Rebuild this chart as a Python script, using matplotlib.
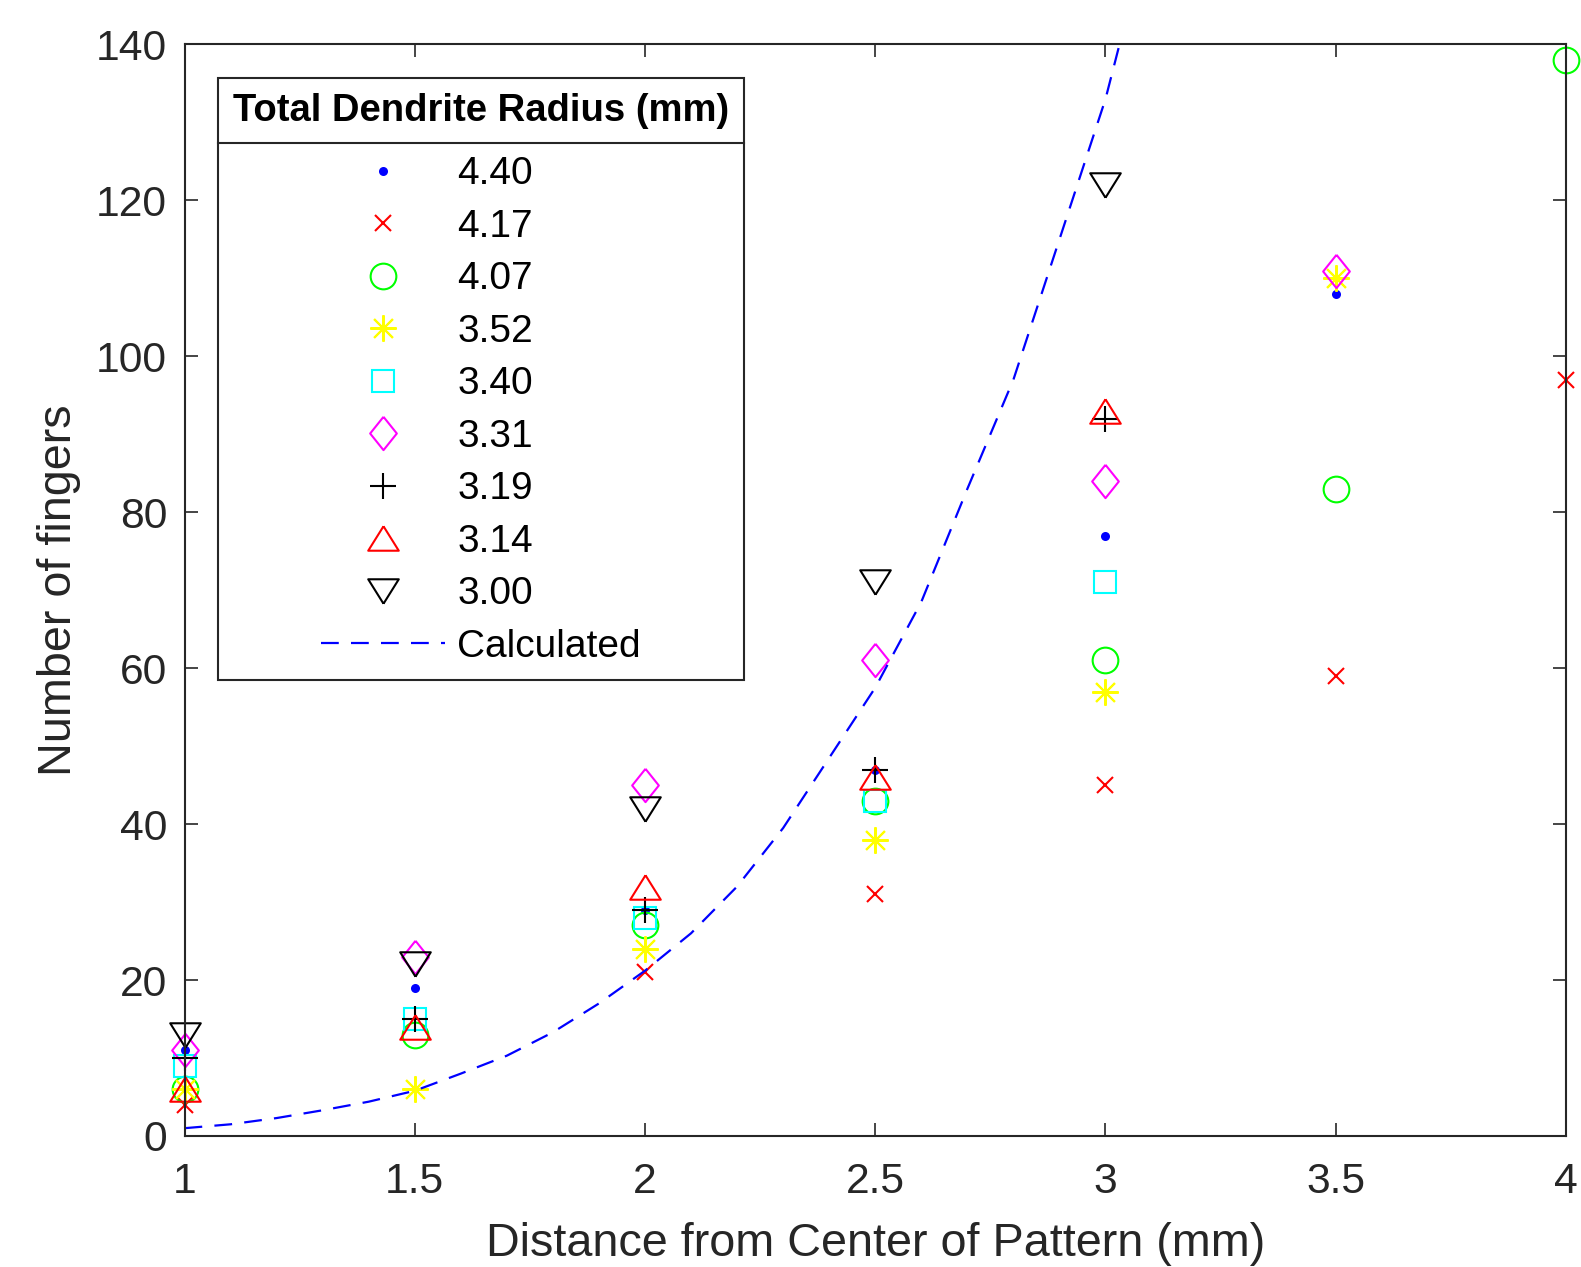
import matplotlib.pyplot as plt
import numpy as np
from matplotlib.lines import Line2D
from matplotlib.ticker import FormatStrFormatter

plt.rcParams['font.family'] = ['Liberation Sans', 'DejaVu Sans']

nan = np.nan

# distance from center of pattern (mm)
dist = [1, 1.5, 2, 2.5, 3, 3.5, 4]

# number of fingers for each total dendrite radius
f440 = [11, 19, 29, 47, 77, 108, nan]
f417 = [4, nan, 21, 31, 45, 59, 97]
f407 = [6, 13, 27, 43, 61, 83, 138]
f352 = [6, 6, 24, 38, 57, 110, nan]
f340 = [9, 15, 28, 43, 71, nan, nan]
f331 = [11, 23, 45, 61, 84, 111, nan]
f319 = [10, 15, 29, 47, 92, nan, nan]
f314 = [6, 14, 32, 46, 93, nan, nan]
f300 = [13, 22, 42, 71, 122, nan, nan]

radius_labels = ['4.40', '4.17', '4.07', '3.52', '3.40', '3.31', '3.19', '3.14', '3.00']

# calculated curve
calc_x = [1.0, 1.1, 1.2, 1.3, 1.4, 1.5, 1.6, 1.7, 1.8, 1.9, 2.0,
          2.1, 2.2, 2.3, 2.4, 2.5, 2.6, 2.7, 2.8, 2.9, 3.0, 3.1]
calc_y = [1.0, 1.5, 2.3, 3.3, 4.4, 5.8, 8.0, 10.3, 13.3, 17.0, 21.2,
          26.0, 32.0, 39.5, 48.5, 57.5, 68.5, 83.0, 97.0, 115.0, 133.0, 156.0]

series = [f440, f417, f407, f352, f340, f331, f319, f314, f300]

tri_up = [(0, 0.8), (-1, -0.8), (1, -0.8), (0, 0.8)]
tri_dn = [(0, -0.8), (-1, 0.8), (1, 0.8), (0, -0.8)]
diamond = [(0, 1), (0.8, 0), (0, -1), (-0.8, 0), (0, 1)]

styles = [
    dict(marker='o', ms=6.5, color='#0000ff', mfc='#0000ff', mew=0),
    dict(marker='x', ms=12, color='#ff0000'),
    dict(marker='o', ms=18.5, color='#00ff00'),
    dict(marker=(8, 2, 0), ms=19, color='#ffff00'),
    dict(marker='s', ms=16, color='#00ffff'),
    dict(marker=diamond, ms=24, color='#ff00ff'),
    dict(marker='+', ms=19, color='#000000'),
    dict(marker=tri_up, ms=22, color='#ff0000'),
    dict(marker=tri_dn, ms=22, color='#000000'),
]

axcol = (0.15, 0.15, 0.15)

fig = plt.figure(figsize=(15.81, 12.67), dpi=100)
ax = fig.add_axes([0.1167, 0.1034, 0.8738, 0.8615])

for vals, lab, st in zip(series, radius_labels, styles):
    st = dict(st)
    st.setdefault('mfc', 'none')
    st.setdefault('mew', 1.5)
    ax.plot(dist, vals, linestyle='none', clip_on=False, label=lab, **st)

ax.plot(calc_x, calc_y, color='#0000ff', lw=1.6, linestyle='--',
        dashes=(8, 5.5), label='Calculated')

ax.set_xlim(1, 4)
ax.set_ylim(0, 140)
ax.set_xticks(dist)
ax.set_yticks(np.arange(0, 141, 20))
ax.xaxis.set_major_formatter(FormatStrFormatter('%g'))

ax.tick_params(direction='in', length=9.5, width=1.2, top=True, right=True,
               labelsize=30.7, colors=axcol)
ax.tick_params(axis='x', pad=19)
ax.tick_params(axis='y', pad=12.5)
for sp in ax.spines.values():
    sp.set_color(axcol)
    sp.set_linewidth(1.5)

ax.set_xlabel('Distance from Center of Pattern (mm)', fontsize=33.7, color=axcol)
ax.set_ylabel('Number of fingers', fontsize=33.7, color=axcol)
ax.xaxis.set_label_coords(0.5, -0.079)
ax.yaxis.set_label_coords(-0.075, 0.5)

leg = ax.legend(loc='upper left', bbox_to_anchor=(0.02425, 0.9693),
                borderaxespad=0, title='Total Dendrite Radius (mm)',
                title_fontproperties={'weight': 'bold', 'size': 27.5},
                fontsize=28, fancybox=False, framealpha=1,
                edgecolor=axcol, borderpad=0.38, labelspacing=0.424,
                handlelength=3.2, handletextpad=0.3, alignment='center',
                numpoints=1)
leg.get_frame().set_linewidth(1.5)
# extra room between the title and the entries
leg._legend_box.sep += 8

# separator line under the legend title
fig.canvas.draw()
r = fig.canvas.get_renderer()
fb = leg.get_window_extent(r)
tb = leg._legend_title_box.get_window_extent(r)
hb = leg._legend_handle_box.get_window_extent(r)
ysep = (tb.y0 + hb.y1) / 2
inv = fig.transFigure.inverted()
(x0, y0), (x1, y1) = inv.transform([(fb.x0, ysep), (fb.x1, ysep)])
fig.add_artist(Line2D([x0, x1], [y0, y1], transform=fig.transFigure,
                      color=axcol, lw=1.5))

fig.savefig('out.png', dpi=100)
